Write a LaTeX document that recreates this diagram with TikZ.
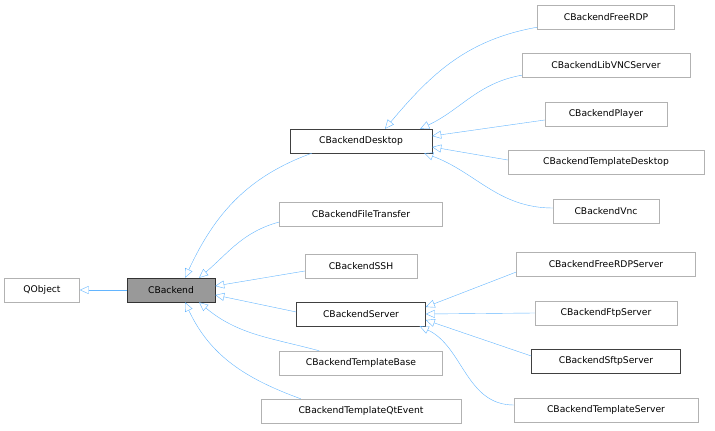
\documentclass[tikz,border=0pt]{standalone}
\usepackage{fontspec}
\setmainfont{DejaVu Sans}
\usetikzlibrary{positioning}
\usetikzlibrary{arrows.meta}
\usetikzlibrary{calc}

\tikzset{
    cls/.style={draw=black!30, fill=white, minimum height=24pt, inner xsep=4pt, font=\fontsize{9.2}{10}\selectfont},
    clsdark/.style={cls, draw=black!75},
    clsbase/.style={cls, draw=black!80, fill=black!40},
    edge/.style={draw={rgb,255:red,99;green,181;blue,255}, {Triangle[open,length=9pt,width=8pt]}-}
}

\begin{document}
\begin{tikzpicture}[x=1pt,y=-1pt]
        \useasboundingbox (0,0) rectangle (715,431);
        % base classes
        \node[cls, minimum width=75pt] (QObject) at (42,290) {QObject};
        \node[clsbase, minimum width=88pt] (CBackend) at (171,290) {CBackend};
        % middle column
        \node[clsdark, minimum width=142pt] (Desktop) at (361,141) {CBackendDesktop};
        \node[cls, minimum width=163pt] (FileTransfer) at (361,214) {CBackendFileTransfer};
        \node[cls, minimum width=112pt] (SSH) at (361,266) {CBackendSSH};
        \node[clsdark, minimum width=129pt] (Server) at (361,314) {CBackendServer};
        \node[cls, minimum width=163pt] (TemplateBase) at (361,363) {CBackendTemplateBase};
        \node[cls, minimum width=200pt] (TemplateQtEvent) at (361,411) {CBackendTemplateQtEvent};
        % right column
        \node[cls, minimum width=137pt] (FreeRDP) at (606,17) {CBackendFreeRDP};
        \node[cls, minimum width=168pt] (LibVNCServer) at (606,65) {CBackendLibVNCServer};
        \node[cls, minimum width=122pt] (Player) at (606,114) {CBackendPlayer};
        \node[cls, minimum width=196pt] (TemplateDesktop) at (606,162) {CBackendTemplateDesktop};
        \node[cls, minimum width=106pt] (Vnc) at (606,211) {CBackendVnc};
        \node[cls, minimum width=179pt] (FreeRDPServer) at (606,264) {CBackendFreeRDPServer};
        \node[cls, minimum width=142pt] (FtpServer) at (606,313) {CBackendFtpServer};
        \node[clsdark, minimum width=149pt] (SftpServer) at (606,361) {CBackendSftpServer};
        \node[cls, minimum width=184pt] (TemplateServer) at (606,410) {CBackendTemplateServer};

        \draw[edge] (QObject.east) -- (CBackend.west);
        \draw[edge] ($(CBackend.north)+(14,0)$) to[out=65,in=200] ($(Desktop.south west)+(22,0)$);
        \draw[edge] ($(CBackend.north)+(28,0)$) to[out=40,in=195] ($(FileTransfer.west)+(0,8)$);
        \draw[edge] ($(CBackend.east)+(0,-4)$) -- ($(SSH.west)+(0,5)$);
        \draw[edge] ($(CBackend.east)+(0,5)$) -- ($(Server.west)+(0,-2)$);
        \draw[edge] ($(CBackend.south)+(28,0)$) to[out=-40,in=165] ($(TemplateBase.north west)+(40,0)$);
        \draw[edge] ($(CBackend.south)+(14,0)$) to[out=-65,in=160] ($(TemplateQtEvent.north west)+(40,0)$);

        \draw[edge] ($(Desktop.north)+(24,0)$) to[out=50,in=190] ($(FreeRDP.south west)+(0,-2)$);
        \draw[edge] ($(Desktop.north east)+(-12,0)$) to[out=25,in=190] ($(LibVNCServer.south west)+(0,-2)$);
        \draw[edge] ($(Desktop.east)+(0,-5)$) -- ($(Player.west)+(0,6)$);
        \draw[edge] ($(Desktop.east)+(0,6)$) -- ($(TemplateDesktop.west)+(0,-2)$);
        \draw[edge] ($(Desktop.south east)+(-8,0)$) to[out=-20,in=180] ($(Vnc.west)+(0,-3)$);

        \draw[edge] ($(Server.east)+(0,-7)$) -- ($(FreeRDPServer.west)+(0,8)$);
        \draw[edge] (Server.east) -- (FtpServer.west);
        \draw[edge] ($(Server.east)+(0,6)$) -- ($(SftpServer.west)+(0,-5)$);
        \draw[edge] ($(Server.south east)+(-6,0)$) to[out=-25,in=180] ($(TemplateServer.west)+(0,-5)$);
\end{tikzpicture}
\end{document}
